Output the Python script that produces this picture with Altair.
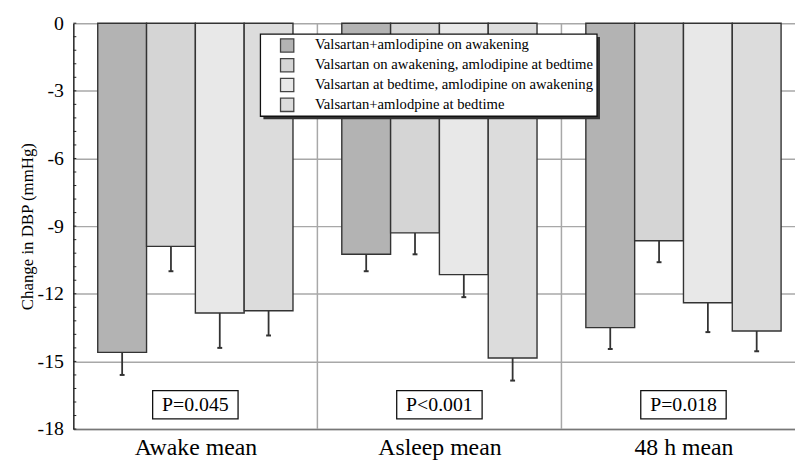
import altair as alt
import pandas as pd

groups = ["Awake mean", "Asleep mean", "48 h mean"]
treatments = [
    "Valsartan+amlodipine on awakening",
    "Valsartan on awakening, amlodipine at bedtime",
    "Valsartan at bedtime, amlodipine on awakening",
    "Valsartan+amlodpine at bedtime",
]
colors = ["#b3b3b3", "#d5d5d5", "#e8e8e8", "#dcdcdc"]

# mean change in DBP per treatment, for each group (Awake, Asleep, 48 h)
means = [
    [-14.6, -10.25, -13.5],
    [-9.9, -9.3, -9.65],
    [-12.85, -11.15, -12.4],
    [-12.75, -14.85, -13.65],
]
ses = [
    [1.0, 0.75, 0.95],
    [1.1, 0.95, 0.95],
    [1.55, 1.0, 1.3],
    [1.1, 1.0, 0.9],
]
p_values = ["P=0.045", "P<0.001", "P=0.018"]
y_ticks = [0, -3, -6, -9, -12, -15, -18]

FONT = "Liberation Serif, Times New Roman, serif"
W, H = 729, 410
XMAX = 2.957
px_per_unit_y = H / 18.0

rows = []
for ti, t in enumerate(treatments):
    for gi, g in enumerate(groups):
        x0 = gi + 0.1 + 0.2 * ti
        rows.append(dict(group=g, treatment=t, color=colors[ti], mean=means[ti][gi],
                         se=ses[ti][gi], x0=x0, x1=x0 + 0.2, xc=x0 + 0.1,
                         lo=means[ti][gi] - ses[ti][gi],
                         c0=x0 + 0.1 - 0.01, c1=x0 + 0.1 + 0.01))
df = pd.DataFrame(rows)

xscale = alt.Scale(domain=[0, XMAX], nice=False, zero=False)
yscale = alt.Scale(domain=[-18, 0], nice=False, zero=False)

label_expr = ("datum.value < 1 ? '%s' : datum.value < 2 ? '%s' : '%s'" % tuple(groups))

base_axis = alt.Chart(pd.DataFrame({"v": [0.5, 1.5, 2.5], "y": [0, 0, 0]})).mark_point(opacity=0).encode(
    x=alt.X("v:Q", scale=xscale,
            axis=alt.Axis(values=[0.5, 1.5, 2.5], labelExpr=label_expr, grid=False, ticks=False,
                          domain=True, domainColor="#777777", domainWidth=1.5,
                          labelFont=FONT, labelFontSize=24, labelColor="black",
                          labelPadding=7, title=None)),
    y=alt.Y("y:Q", scale=yscale,
            axis=alt.Axis(values=y_ticks, grid=True, gridColor="#a8a8a8", gridWidth=1.5,
                          labelExpr="toString(datum.value)",
                          ticks=False, domain=True, domainColor="#222222", domainWidth=1.5,
                          labelFont=FONT, labelFontSize=20, labelColor="black", labelPadding=10,
                          title="Change in DBP (mmHg)", titleFont=FONT, titleFontSize=17,
                          titleFontWeight="normal", titleColor="black", titlePadding=1)),
)

sep = alt.Chart(pd.DataFrame({"x": [1, 2]})).mark_rule(color="#a8a8a8", strokeWidth=1.5).encode(
    x=alt.X("x:Q", scale=xscale), y=alt.value(0), y2=alt.value(H))

minor_vals = [-(i * 0.6) for i in range(31)]
minor = alt.Chart(pd.DataFrame({"v": minor_vals})).mark_rule(color="#222222", strokeWidth=1).encode(
    y=alt.Y("v:Q", scale=yscale), x=alt.value(0), x2=alt.value(3))

bars = alt.Chart(df).mark_rect(stroke="#333333", strokeWidth=1.4).encode(
    x=alt.X("x0:Q", scale=xscale), x2="x1:Q",
    y=alt.Y("mean:Q", scale=yscale), y2=alt.datum(0),
    fill=alt.Fill("color:N", scale=None))

err = alt.Chart(df).mark_rule(color="#333333", strokeWidth=1.8).encode(
    x=alt.X("xc:Q", scale=xscale), y=alt.Y("mean:Q", scale=yscale), y2="lo:Q")
caps = alt.Chart(df).mark_rule(color="#333333", strokeWidth=2).encode(
    x=alt.X("c0:Q", scale=xscale), x2="c1:Q", y=alt.Y("lo:Q", scale=yscale))

one = pd.DataFrame({"a": [0]})
shadow = alt.Chart(one).mark_rect(fill="#333333").encode(
    x=alt.value(192), x2=alt.value(532), y=alt.value(14), y2=alt.value(97))
box = alt.Chart(one).mark_rect(fill="white", stroke="#111111", strokeWidth=1.3).encode(
    x=alt.value(189), x2=alt.value(529), y=alt.value(11), y2=alt.value(94))

leg = pd.DataFrame({"name": treatments, "color": colors,
                    "ly": [-(22.5 + 20 * i) / px_per_unit_y for i in range(4)]})
swatch = alt.Chart(leg).mark_square(size=180, stroke="#444444", strokeWidth=1.3, opacity=1).encode(
    x=alt.value(216), y=alt.Y("ly:Q", scale=yscale), fill=alt.Fill("color:N", scale=None))
ltext = alt.Chart(leg).mark_text(align="left", baseline="middle", font=FONT, fontSize=14.8,
                                 color="black").encode(
    x=alt.value(244), y=alt.Y("ly:Q", scale=yscale), text="name:N")

pdf = pd.DataFrame({"p": p_values, "gi": [0, 1, 2]})
pdf["xl"] = pdf["gi"] + 0.5 - 0.175
pdf["xr"] = pdf["gi"] + 0.5 + 0.175
pdf["xc"] = pdf["gi"] + 0.5
pdf["yt"] = -16.3
pdf["yb"] = -17.55
pdf["ym"] = -16.93
pbox = alt.Chart(pdf).mark_rect(fill="white", stroke="#111111", strokeWidth=1.3).encode(
    x=alt.X("xl:Q", scale=xscale), x2="xr:Q", y=alt.Y("yt:Q", scale=yscale), y2="yb:Q")
ptext = alt.Chart(pdf).mark_text(font=FONT, fontSize=20, color="black", baseline="middle").encode(
    x=alt.X("xc:Q", scale=xscale), y=alt.Y("ym:Q", scale=yscale), text="p:N")

chart = alt.layer(base_axis, sep, bars, err, caps, minor, shadow, box, swatch, ltext, pbox, ptext).properties(
    width=W, height=H,
    padding={"left": 66, "top": 13, "right": 0, "bottom": 38},
    autosize=alt.AutoSizeParams(type="none"),
    background="white",
).configure_view(stroke=None)

chart.save("out.html", embed_options={"renderer": "svg", "actions": False})
